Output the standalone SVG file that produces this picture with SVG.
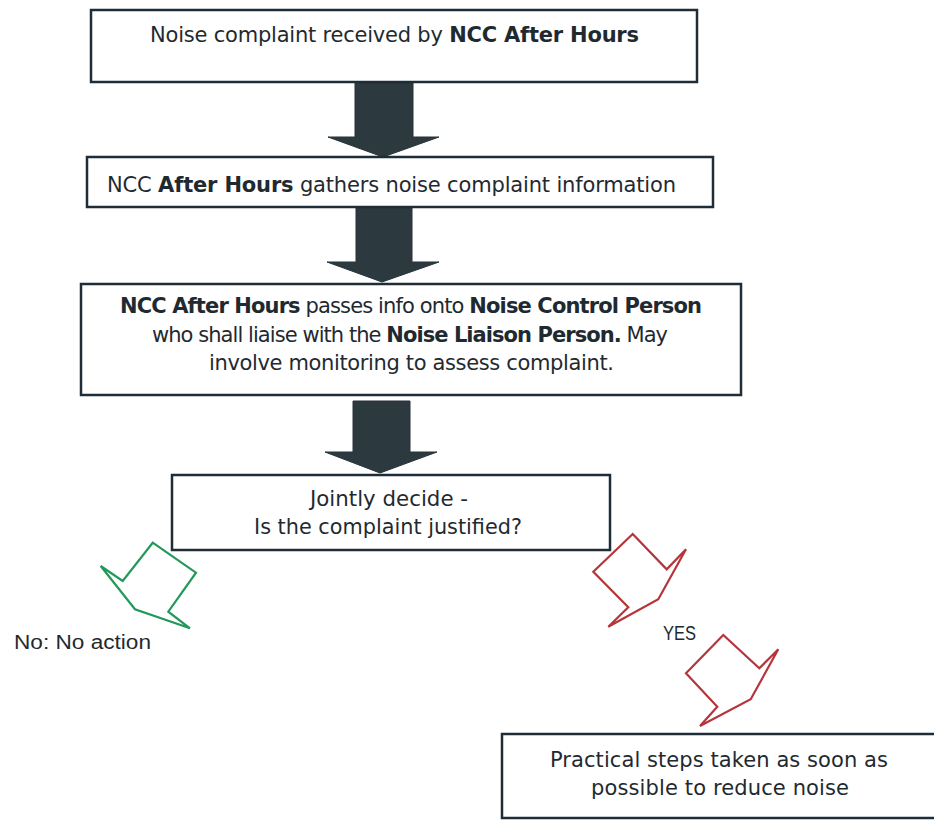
<svg xmlns="http://www.w3.org/2000/svg" width="934" height="820" viewBox="0 0 934 820">
<style>
.box{fill:#ffffff;stroke:#1e2d38;stroke-width:2.5}
.t{font-family:"DejaVu Sans","Liberation Sans",sans-serif;font-size:21px;fill:#1f2a30}
.b{font-weight:bold}
.lbl{font-family:"Liberation Sans","Open Sans",sans-serif;font-size:20px;fill:#1f2a30}
.dark{fill:#2c3a40;stroke:#26333a;stroke-width:1}
.green{fill:none;stroke:#22995a;stroke-width:2.2;stroke-linejoin:miter}
.red{fill:none;stroke:#b5353a;stroke-width:2.2;stroke-linejoin:miter}
</style>
<rect width="934" height="820" fill="#ffffff"/>
<g id="connectors">
<polygon class="dark" points="355,83 413,83 413,137 439,137 383,157 328,137 355,137"/>
<polygon class="dark" points="356,208 412,208 412,262 439,262 382,282 327,262 356,262"/>
<polygon class="dark" points="353,401 410,401 410,452 437,452 380,473 325,452 353,452"/>
<polygon class="green" points="152.7,542.7 196,572.7 168.3,611.7 190,628.3 135,609.3 100.7,566 122.7,581"/>
<polygon class="red" points="632.7,534 666.7,569.3 686,549.3 658.3,599.3 608.3,626.7 628.3,607.3 593.3,571.7"/>
<polygon class="red" points="723.3,635 759.3,668.3 778.3,649.3 750.7,699.3 700,726 717.3,706.7 686,673.3"/>
</g>
<g id="n1">
<rect class="box" x="91" y="10" width="606" height="72"/>
<text class="t" x="150" y="42" textLength="489" lengthAdjust="spacing">Noise complaint received by <tspan class="b">NCC After Hours</tspan></text>
</g>
<g id="n2">
<rect class="box" x="87" y="157" width="626" height="50"/>
<text class="t" x="107" y="192" textLength="569" lengthAdjust="spacing">NCC <tspan class="b">After Hours</tspan> gathers noise complaint information</text>
</g>
<g id="n3">
<rect class="box" x="81" y="284" width="660" height="111"/>
<text class="t" x="120" y="313" textLength="582" lengthAdjust="spacing"><tspan class="b">NCC After Hours</tspan> passes info onto <tspan class="b">Noise Control Person</tspan></text>
<text class="t" x="152" y="342" textLength="516" lengthAdjust="spacing">who shall liaise with the <tspan class="b">Noise Liaison Person.</tspan>  May</text>
<text class="t" x="209" y="370" textLength="405" lengthAdjust="spacing">involve monitoring to assess complaint.</text>
</g>
<g id="n4">
<rect class="box" x="172" y="475" width="438" height="75"/>
<text class="t" x="310" y="506" textLength="158" lengthAdjust="spacingAndGlyphs">Jointly decide -</text>
<text class="t" x="254" y="534" textLength="268" lengthAdjust="spacingAndGlyphs">Is the complaint justified?</text>
</g>
<g id="n5">
<text class="lbl" x="14" y="649" textLength="137" lengthAdjust="spacingAndGlyphs">No: No action</text>
</g>
<g id="n6">
<text class="lbl" x="663" y="640" textLength="33" lengthAdjust="spacingAndGlyphs">YES</text>
</g>
<g id="n7">
<rect class="box" x="502" y="734" width="440" height="84"/>
<text class="t" x="550" y="767" textLength="338" lengthAdjust="spacing">Practical steps taken as soon as</text>
<text class="t" x="591" y="795" textLength="258" lengthAdjust="spacing">possible to reduce noise</text>
</g>
</svg>
